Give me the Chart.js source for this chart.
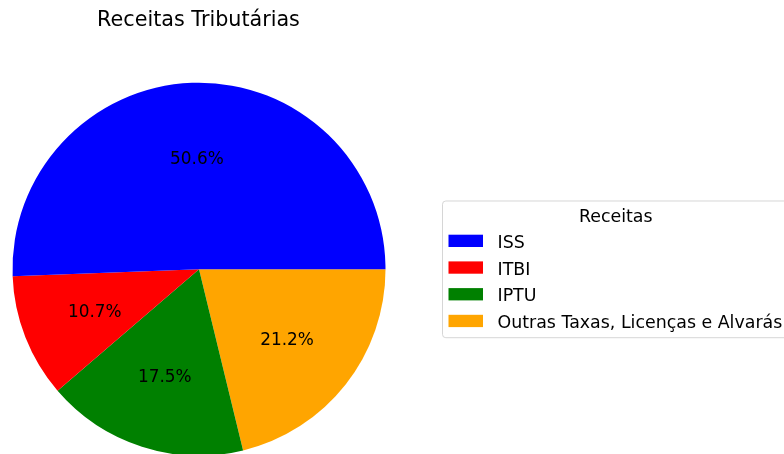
<!DOCTYPE html>
<html>
<head>
<meta charset="utf-8">
<script src="https://cdn.jsdelivr.net/npm/chart.js@4.4.1/dist/chart.umd.min.js"></script>
<style>
  html, body { margin: 0; padding: 0; background: #ffffff; overflow: hidden; }
  #wrap { width: 784px; height: 454px; overflow: hidden; position: relative; }
  canvas { display: block; }
</style>
</head>
<body>
<div id="wrap"><canvas id="c" width="784" height="460"></canvas></div>
<script>
// Tax revenue shares (percent)
const categories = ['ISS', 'ITBI', 'IPTU', 'Outras Taxas, Licenças e Alvarás'];
const shares = [50.6, 10.7, 17.5, 21.2];
const colors = ['#0000ff', '#ff0000', '#008000', '#ffa500'];
const chartTitle = 'Receitas Tributárias';
const legendTitle = 'Receitas';

const FONT = '"DejaVu Sans", sans-serif';

// Slices run counter-clockwise from 3 o'clock; Chart.js draws clockwise,
// so the dataset is fed in reverse order starting at 90°.
const order = categories.map((_, i) => i).reverse();

const total = shares.reduce((a, b) => a + b, 0);

const overlay = {
  id: 'overlay',
  afterDatasetsDraw(chart) {
    const ctx = chart.ctx;
    const meta = chart.getDatasetMeta(0);
    ctx.save();
    ctx.fillStyle = '#000000';
    ctx.font = '16.9px ' + FONT;
    ctx.textAlign = 'center';
    ctx.textBaseline = 'alphabetic';
    meta.data.forEach((arc, j) => {
      const p = arc.getProps(['x', 'y', 'startAngle', 'endAngle', 'outerRadius'], true);
      const mid = (p.startAngle + p.endAngle) / 2;
      const r = p.outerRadius * 0.6;
      const x = p.x + Math.cos(mid) * r;
      const y = p.y + Math.sin(mid) * r;
      const v = chart.data.datasets[0].data[j];
      ctx.fillText((v / total * 100).toFixed(1) + '%', x, y + 6.5);
    });
    ctx.restore();
  },
  afterDraw(chart) {
    const ctx = chart.ctx;
    ctx.save();
    // chart title
    ctx.fillStyle = '#000000';
    ctx.font = '20.7px ' + FONT;
    ctx.textAlign = 'center';
    ctx.textBaseline = 'alphabetic';
    ctx.fillText(chartTitle, 198.5, 25.7);

    // legend
    ctx.font = '17.4px ' + FONT;
    const textX = 497.5;
    const maxW = Math.max(...categories.map(c => ctx.measureText(c).width));
    const bx = 442.5, by = 201, bw = textX + maxW + 6.7 - bx, bh = 136.7, rr = 3.3;
    ctx.beginPath();
    ctx.moveTo(bx + rr, by);
    ctx.lineTo(bx + bw - rr, by);
    ctx.arcTo(bx + bw, by, bx + bw, by + rr, rr);
    ctx.lineTo(bx + bw, by + bh - rr);
    ctx.arcTo(bx + bw, by + bh, bx + bw - rr, by + bh, rr);
    ctx.lineTo(bx + rr, by + bh);
    ctx.arcTo(bx, by + bh, bx, by + bh - rr, rr);
    ctx.lineTo(bx, by + rr);
    ctx.arcTo(bx, by, bx + rr, by, rr);
    ctx.closePath();
    ctx.fillStyle = 'rgba(255,255,255,0.8)';
    ctx.fill();
    ctx.strokeStyle = 'rgba(204,204,204,0.8)';
    ctx.lineWidth = 1;
    ctx.stroke();

    ctx.fillStyle = '#000000';
    ctx.textAlign = 'center';
    ctx.fillText(legendTitle, bx + bw / 2, 222.2);

    ctx.textAlign = 'left';
    const rowY = [241.7, 268.4, 295.1, 321.8];
    categories.forEach((c, i) => {
      ctx.fillStyle = colors[i];
      ctx.fillRect(448.5, rowY[i] - 7, 34.5, 12.3);
      ctx.fillStyle = '#000000';
      ctx.fillText(c, textX, rowY[i] + 6.3);
    });
    ctx.restore();
  }
};

new Chart(document.getElementById('c'), {
  type: 'pie',
  data: {
    labels: order.map(i => categories[i]),
    datasets: [{
      data: order.map(i => shares[i]),
      backgroundColor: order.map(i => colors[i]),
      borderWidth: 0
    }]
  },
  options: {
    responsive: false,
    animation: false,
    rotation: 90,
    layout: { padding: { left: 12.5, right: 784 - 385.5, top: 82.7, bottom: 460 - 455.7 } },
    plugins: {
      legend: { display: false },
      title: { display: false },
      tooltip: { enabled: false }
    }
  },
  plugins: [overlay]
});
</script>
</body>
</html>
